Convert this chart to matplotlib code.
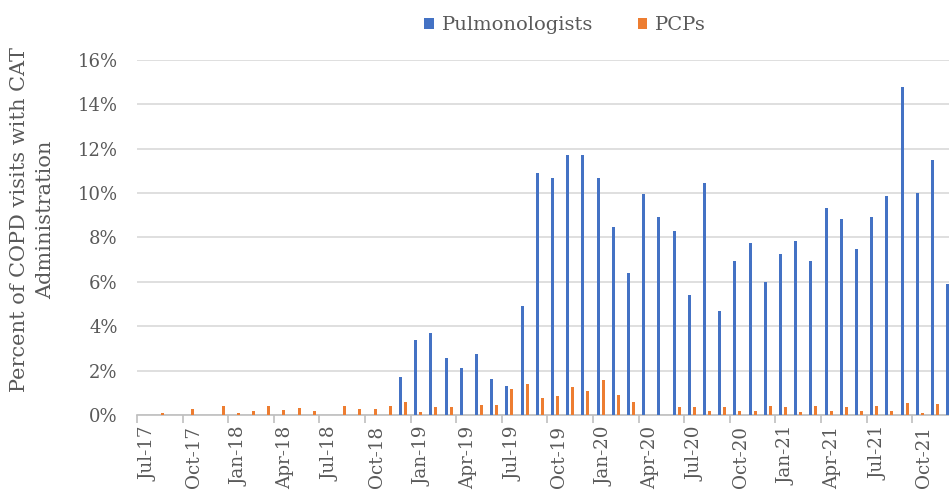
import numpy as np
import matplotlib
matplotlib.use("Agg")
import matplotlib.pyplot as plt
import matplotlib.transforms as mtransforms
from matplotlib.ticker import FixedLocator, PercentFormatter

# monthly data, Jul-17 .. Dec-21 (values in %)
months = ["Jul-17", "Aug-17", "Sep-17", "Oct-17", "Nov-17", "Dec-17",
          "Jan-18", "Feb-18", "Mar-18", "Apr-18", "May-18", "Jun-18",
          "Jul-18", "Aug-18", "Sep-18", "Oct-18", "Nov-18", "Dec-18",
          "Jan-19", "Feb-19", "Mar-19", "Apr-19", "May-19", "Jun-19",
          "Jul-19", "Aug-19", "Sep-19", "Oct-19", "Nov-19", "Dec-19",
          "Jan-20", "Feb-20", "Mar-20", "Apr-20", "May-20", "Jun-20",
          "Jul-20", "Aug-20", "Sep-20", "Oct-20", "Nov-20", "Dec-20",
          "Jan-21", "Feb-21", "Mar-21", "Apr-21", "May-21", "Jun-21",
          "Jul-21", "Aug-21", "Sep-21", "Oct-21", "Nov-21", "Dec-21"]

pulmonologists = [0, 0, 0, 0, 0, 0,
                  0, 0, 0, 0, 0, 0,
                  0, 0, 0, 0, 0, 1.70,
                  3.38, 3.70, 2.58, 2.10, 2.75, 1.64,
                  1.32, 4.90, 10.92, 10.68, 11.72, 11.72,
                  10.68, 8.46, 6.40, 9.97, 8.94, 8.30,
                  5.40, 10.45, 4.70, 6.95, 7.75, 6.00,
                  7.25, 7.86, 6.95, 9.33, 8.85, 7.50,
                  8.94, 9.88, 14.80, 10.00, 11.50, 5.90]

pcps = [0, 0.10, 0, 0.27, 0, 0.40,
        0.10, 0.18, 0.40, 0.23, 0.32, 0.18,
        0, 0.40, 0.27, 0.27, 0.42, 0.60,
        0.15, 0.38, 0.38, 0, 0.45, 0.45,
        1.17, 1.41, 0.78, 0.86, 1.25, 1.10,
        1.58, 0.92, 0.60, 0, 0, 0.38,
        0.38, 0.20, 0.38, 0.20, 0.20, 0.42,
        0.38, 0.12, 0.42, 0.20, 0.38, 0.20,
        0.42, 0.20, 0.55, 0.10, 0.48, 0]

blue = "#4472C4"
orange = "#ED7D31"
grey_txt = "#595959"

plt.rcParams["font.family"] = "DejaVu Serif"

fig = plt.figure(figsize=(9.49, 4.94), dpi=100)
ax = fig.add_axes([137 / 949, 1 - 415 / 494, 1 - 137 / 949, (415 - 60) / 494])

x = np.arange(len(months))
ax.bar(x - 0.16, pulmonologists, 0.2, color=blue, label="Pulmonologists", zorder=3)
ax.bar(x + 0.16, pcps, 0.2, color=orange, label="PCPs", zorder=3)

ax.yaxis.set_major_locator(FixedLocator(np.arange(0, 17, 2)))
ax.yaxis.set_major_formatter(PercentFormatter(decimals=0))
ax.grid(axis="y", color="#d9d9d9", linewidth=1.2, zorder=0)
ax.set_axisbelow(True)

# labels under every third month, tick marks between categories
ax.set_xticks(x[::3])
ax.set_xticklabels(months[::3], rotation=90)
ax.set_xticks(np.arange(-0.5, len(months), 3), minor=True)
ax.tick_params(axis="x", which="major", length=0, pad=8, labelsize=13.2, labelcolor=grey_txt)
ax.tick_params(axis="x", which="minor", length=6, color="#bfbfbf", width=1.2)
ax.tick_params(axis="y", length=0, pad=14, labelsize=13, labelcolor=grey_txt)
shift = mtransforms.ScaledTranslation(4 / 100, 0, fig.dpi_scale_trans)
for lab in ax.get_xticklabels():
    lab.set_transform(lab.get_transform() + shift)

# chart is cut off at the right edge, partway into Dec-21
ax.set_ylim(0, 16)
ax.set_xlim(-0.5, -0.5 + (949 - 137) / 15.2)

for s in ["top", "right", "left"]:
    ax.spines[s].set_visible(False)
ax.spines["bottom"].set_color("#bfbfbf")
ax.spines["bottom"].set_linewidth(1.2)

ax.set_ylabel("Percent of COPD visits with CAT\nAdministration", fontsize=15,
              color=grey_txt, linespacing=1.45)
ax.yaxis.set_label_coords(-0.101, 0.55)

fig.legend(loc="center", bbox_to_anchor=(565 / 949, 1 - 25 / 494), ncol=2, frameon=False,
           fontsize=14, handlelength=0.5, handleheight=0.5, handletextpad=0.4,
           columnspacing=2.3, labelcolor=grey_txt)

fig.savefig("out.png", dpi=100)
